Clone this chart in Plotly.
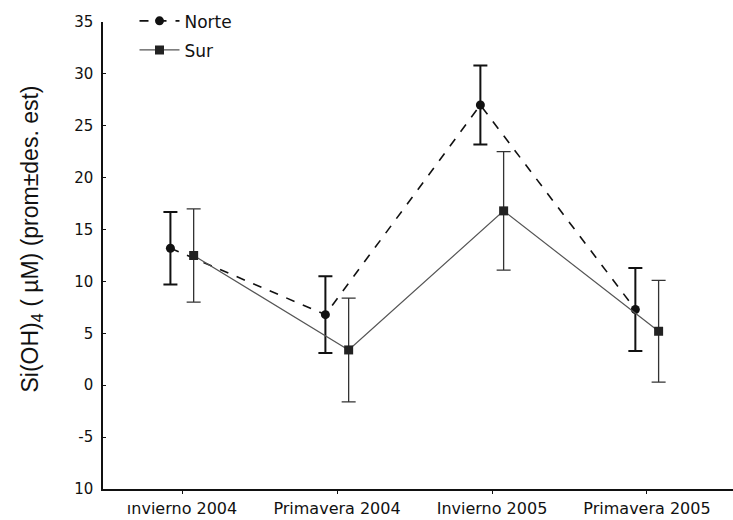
import plotly.graph_objects as go

categories = ["ınvierno 2004", "Primavera 2004", "Invierno 2005", "Primavera 2005"]
norte_mean = [13.2, 6.8, 27.0, 7.3]
norte_sd = [3.5, 3.7, 3.8, 4.0]
sur_mean = [12.5, 3.4, 16.8, 5.2]
sur_sd = [4.5, 5.0, 5.7, 4.9]
y_tickvals = [35, 30, 25, 20, 15, 10, 5, 0, -5, -10]
y_ticktext = ["35", "30", "25", "20", "15", "10", "5", "0", "-5", "10"]
y_title = "Si(OH)<sub>4</sub> ( µM) (prom±des. est)"

pos = list(range(len(categories)))
off = 0.075
wide = "DejaVu Sans, Verdana, sans-serif"

fig = go.Figure()
fig.add_trace(go.Scatter(
    x=[p - off for p in pos], y=norte_mean, name="Norte", mode="lines+markers",
    legendgroup="n",
    line=dict(color="#111111", width=1.6, dash="dash"),
    marker=dict(symbol="circle", size=9, color="#111111"),
    error_y=dict(type="data", array=norte_sd, visible=True, color="#111111",
                 thickness=2, width=7),
))
fig.add_trace(go.Scatter(
    x=[p + off for p in pos], y=sur_mean, name="Sur", mode="lines+markers",
    legendgroup="s",
    line=dict(color="#555555", width=1.2),
    marker=dict(symbol="square", size=9, color="#222222"),
    error_y=dict(type="data", array=sur_sd, visible=True, color="#333333",
                 thickness=1.3, width=7),
))

fig.update_layout(
    width=733, height=520,
    margin=dict(l=103, r=0, t=22, b=31, autoexpand=False),
    paper_bgcolor="white", plot_bgcolor="white",
    font=dict(family="Liberation Sans, Arial, sans-serif", color="#111111"),
    showlegend=True,
    legend=dict(x=0.05, y=1.04, xanchor="left", yanchor="top",
                bgcolor="rgba(0,0,0,0)", font=dict(size=17, family=wide),
                itemwidth=40, traceorder="grouped", tracegroupgap=4),
    xaxis=dict(
        range=[-0.51, 3.555], tickvals=pos, ticktext=categories,
        showline=True, linecolor="#111111", linewidth=1.5,
        ticks="outside", ticklen=3, tickcolor="#111111",
        showgrid=False, zeroline=False, tickfont=dict(size=16, family=wide),
        ticklabelstandoff=1,
    ),
    yaxis=dict(
        range=[-10, 35], tickvals=y_tickvals, ticktext=y_ticktext,
        showline=True, linecolor="#111111", linewidth=1.5,
        ticks="inside", ticklen=3, tickcolor="#111111",
        showgrid=False, zeroline=False, tickfont=dict(size=15, family=wide),
        ticklabelstandoff=5,
    ),
    annotations=[dict(
        text=y_title, textangle=-90, showarrow=False,
        xref="paper", yref="paper", x=-0.113, y=0.536,
        xanchor="center", yanchor="middle",
        font=dict(size=23, family="Liberation Sans, Arial, sans-serif"),
    )],
)

fig.write_html("out.html")
